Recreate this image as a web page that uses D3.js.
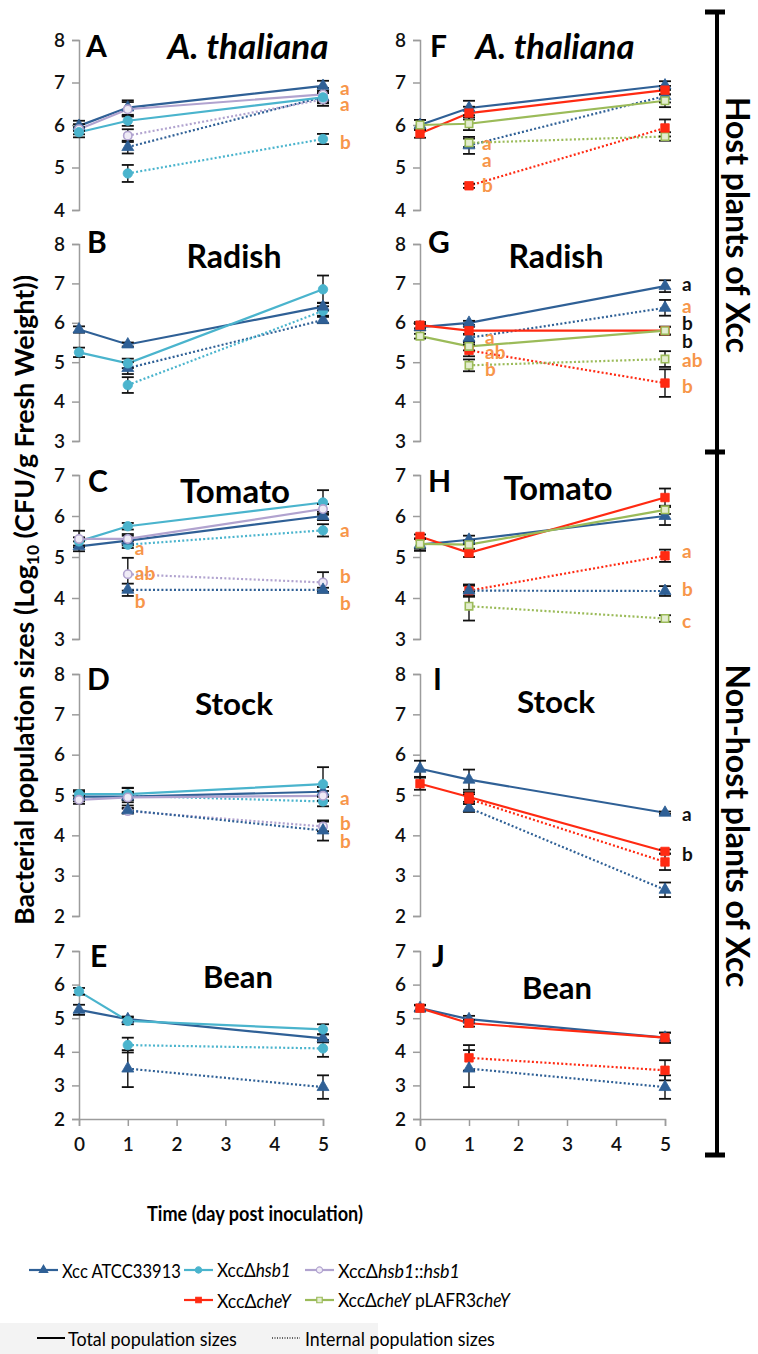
<!DOCTYPE html>
<html><head><meta charset="utf-8">
<script src="https://cdn.jsdelivr.net/npm/d3@7"></script>
<style>body{margin:0;background:#fff} svg{display:block} text{font-family:Lato,'Open Sans',sans-serif}</style>
</head><body><svg id="c" width="758" height="1354"></svg>
<script>
// ---------------- DATA ----------------
const days = [0, 1, 5];
const internalDays = [1, 5];
const xTickValues = [0, 1, 2, 3, 4, 5];
const strainKeys = ["wt", "hsb1", "comp1", "cheY", "comp2"];
const strainLabels = [["Xcc ATCC33913"], ["XccΔ", "hsb1"], ["XccΔ", "hsb1", "::", "hsb1"], ["XccΔ", "cheY"], ["XccΔ", "cheY", " pLAFR3", "cheY"]];
const panelIds = ["A", "B", "C", "D", "E", "F", "G", "H", "I", "J"];
const panelTitles = ["A. thaliana", "Radish", "Tomato", "Stock", "Bean", "A. thaliana", "Radish", "Tomato", "Stock", "Bean"];
const panelYDomains = [[4, 8], [3, 8], [3, 7], [2, 8], [2, 7], [4, 8], [3, 8], [3, 7], [2, 8], [2, 7]];
// [strain, kind, values (total: days 0,1,5 ; internal: days 1,5), error]
const seriesA = [
  ["wt", "total", [5.98, 6.41, 6.92], [0.12, 0.17, 0.12]],
  ["comp1", "total", [5.90, 6.37, 6.72], [0.12, 0.17, 0.15]],
  ["hsb1", "total", [5.83, 6.10, 6.65], [0.12, 0.12, 0.12]],
  ["wt", "internal", [5.48, 6.66], [0.15, 0.15]],
  ["comp1", "internal", [5.75, 6.60], [0.15, 0.15]],
  ["hsb1", "internal", [4.86, 5.67], [0.20, 0.12]]
];
const seriesB = [
  ["wt", "total", [5.83, 5.45, 6.41], [0.08, 0.05, 0.10]],
  ["hsb1", "total", [5.25, 4.97, 6.85], [0.12, 0.12, 0.35]],
  ["wt", "internal", [4.85, 6.07], [0.15, 0.08]],
  ["hsb1", "internal", [4.42, 6.30], [0.20, 0.12]]
];
const seriesC = [
  ["wt", "total", [5.26, 5.40, 6.00], [0.12, 0.12, 0.10]],
  ["hsb1", "total", [5.38, 5.75, 6.33], [0.10, 0.08, 0.30]],
  ["comp1", "total", [5.44, 5.44, 6.17], [0.20, 0.12, 0.12]],
  ["hsb1", "internal", [5.30, 5.65], [0.08, 0.15]],
  ["comp1", "internal", [4.58, 4.38], [0.40, 0.25]],
  ["wt", "internal", [4.20, 4.20], [0.15, 0.05]]
];
const seriesD = [
  ["wt", "total", [4.96, 4.96, 5.08], [0.12, 0.22, 0.12]],
  ["hsb1", "total", [5.02, 5.02, 5.27], [0.10, 0.15, 0.42]],
  ["comp1", "total", [4.88, 4.94, 4.98], [0.10, 0.12, 0.12]],
  ["hsb1", "internal", [4.98, 4.84], [0.10, 0.12]],
  ["comp1", "internal", [4.60, 4.22], [0.06, 0.12]],
  ["wt", "internal", [4.62, 4.12], [0.06, 0.25]]
];
const seriesE = [
  ["wt", "total", [5.25, 4.97, 4.40], [0.15, 0.08, 0.12]],
  ["hsb1", "total", [5.80, 4.92, 4.67], [0.10, 0.10, 0.15]],
  ["hsb1", "internal", [4.20, 4.10], [0.22, 0.25]],
  ["wt", "internal", [3.50, 2.95], [0.55, 0.35]]
];
const seriesF = [
  ["wt", "total", [6.00, 6.40, 6.93], [0.12, 0.17, 0.10]],
  ["cheY", "total", [5.80, 6.28, 6.82], [0.10, 0.15, 0.10]],
  ["comp2", "total", [6.00, 6.03, 6.57], [0.12, 0.15, 0.15]],
  ["wt", "internal", [5.52, 6.68], [0.20, 0.15]],
  ["comp2", "internal", [5.58, 5.73], [0.10, 0.10]],
  ["cheY", "internal", [4.57, 5.93], [0.05, 0.20]]
];
const seriesG = [
  ["wt", "total", [5.89, 6.00, 6.93], [0.08, 0.05, 0.15]],
  ["cheY", "total", [5.94, 5.80, 5.80], [0.08, 0.10, 0.10]],
  ["comp2", "total", [5.66, 5.40, 5.80], [0.06, 0.10, 0.10]],
  ["wt", "internal", [5.62, 6.38], [0.10, 0.20]],
  ["cheY", "internal", [5.30, 4.47], [0.15, 0.35]],
  ["comp2", "internal", [4.92, 5.08], [0.15, 0.20]]
];
const seriesH = [
  ["wt", "total", [5.30, 5.42, 6.00], [0.15, 0.10, 0.22]],
  ["cheY", "total", [5.50, 5.10, 6.45], [0.05, 0.10, 0.22]],
  ["comp2", "total", [5.32, 5.30, 6.15], [0.12, 0.10, 0.10]],
  ["cheY", "internal", [4.18, 5.03], [0.12, 0.15]],
  ["wt", "internal", [4.18, 4.17], [0.15, 0.12]],
  ["comp2", "internal", [3.80, 3.50], [0.35, 0.08]]
];
const seriesI = [
  ["wt", "total", [5.65, 5.38, 4.56], [0.20, 0.25, 0.03]],
  ["cheY", "total", [5.28, 4.95, 3.60], [0.15, 0.12, 0.05]],
  ["wt", "internal", [4.68, 2.65], [0.10, 0.18]],
  ["cheY", "internal", [4.90, 3.34], [0.12, 0.20]]
];
const seriesJ = [
  ["wt", "total", [5.30, 4.97, 4.42], [0.10, 0.10, 0.15]],
  ["cheY", "total", [5.30, 4.85, 4.42], [0.08, 0.10, 0.15]],
  ["cheY", "internal", [3.82, 3.45], [0.38, 0.30]],
  ["wt", "internal", [3.50, 2.95], [0.55, 0.35]]
];
// significance letters: [day, value, text, colour group]
const statsA = [[5, 6.88, "a", "o"], [5, 6.50, "a", "o"], [5, 5.62, "b", "o"]];
const statsB = [];
const statsC = [[1, 5.22, "a", "o"], [1, 4.61, "ab", "o"], [1, 3.95, "b", "o"], [5, 5.68, "a", "o"], [5, 4.56, "b", "o"], [5, 3.90, "b", "o"]];
const statsD = [[5, 4.95, "a", "o"], [5, 4.31, "b", "o"], [5, 3.86, "b", "o"]];
const statsE = [];
const statsF = [[1, 5.58, "a", "o"], [1, 5.18, "a", "o"], [1, 4.61, "b", "o"]];
const statsG = [[5, 7.01, "a", "k"], [5, 6.43, "a", "o"], [5, 6.02, "b", "k"], [5, 5.54, "b", "k"], [5, 5.08, "ab", "o"], [5, 4.42, "b", "o"], [1, 5.66, "a", "o"], [1, 5.28, "ab", "o"], [1, 4.85, "b", "o"]];
const statsH = [[5, 5.17, "a", "o"], [5, 4.24, "b", "o"], [5, 3.46, "c", "o"]];
const statsI = [[5, 4.55, "a", "k"], [5, 3.56, "b", "k"]];
const statsJ = [];
const groupLabels = ["Host plants of Xcc", "Non-host plants of Xcc"];
const popLabels = ["Total population sizes", "Internal population sizes"];

// ---------------- STYLE / LAYOUT ----------------
const colors = {wt: "#2f6096", hsb1: "#4ab4cd", comp1: "#b1a3cf", cheY: "#ff2a12", comp2: "#9bbb59"};
const fills = {wt: "#2f6096", hsb1: "#4ab4cd", comp1: "#efebf6", cheY: "#ff2a12", comp2: "#e4edd0"};
const statColor = {o: "#f7964a", k: "#111"};
const allSeries = [seriesA, seriesB, seriesC, seriesD, seriesE, seriesF, seriesG, seriesH, seriesI, seriesJ];
const allStats = [statsA, statsB, statsC, statsD, statsE, statsF, statsG, statsH, statsI, statsJ];
const rowsPx = [[40, 210], [244, 441], [475, 639], [674, 916], [951, 1119]];
const colsPx = [[79, 323], [420, 665]];
const letterPos = [[86, 57], [87, 253], [88, 492], [87, 690], [90, 967], [430, 57], [428, 253], [428, 492], [433, 690], [432, 967]];
const titlePos = [[248, 59, 161], [234, 268, 95], [235, 503, 110], [234, 715, 78], [238, 988, 70],
                  [555, 59, 159], [556, 268, 95], [558, 500, 109], [556, 713, 78], [557, 999, 70]];
const statDx1 = [0, 0, 7, 0, 0, 13, 16, 0, 0, 0];

const svg = d3.select("#c");

function fitWidth(sel, w) {
  const n = sel.node();
  const fs = parseFloat(sel.attr("font-size"));
  const cw = n.getComputedTextLength();
  if (cw > 0) sel.attr("font-size", (fs * w / cw).toFixed(2));
}
// keep font height, compress horizontally to the given width
function squeeze(sel, w) {
  const cw = sel.node().getComputedTextLength();
  const x = +sel.attr("x"), y = +sel.attr("y");
  sel.attr("x", 0).attr("y", 0).attr("transform", `translate(${x},${y}) scale(${(w / cw).toFixed(4)},1)`);
}

function symbolFor(key) {
  if (key === "wt") return d3.symbol(d3.symbolTriangle, 62);
  if (key === "hsb1") return d3.symbol(d3.symbolCircle, 70);
  if (key === "comp1") return d3.symbol(d3.symbolCircle, 55);
  if (key === "cheY") return d3.symbol(d3.symbolSquare, 72);
  return d3.symbol(d3.symbolSquare, 55);
}

panelIds.forEach((id, i) => {
  const col = i < 5 ? 0 : 1, row = i % 5;
  const x = d3.scaleLinear().domain([0, 5]).range(colsPx[col]);
  const y = d3.scaleLinear().domain(panelYDomains[i]).range([rowsPx[row][1], rowsPx[row][0]]);
  const g = svg.append("g");
  // y axis
  const yAxis = d3.axisLeft(y).ticks(panelYDomains[i][1] - panelYDomains[i][0]).tickSize(7).tickPadding(7).tickFormat(d3.format("d"));
  const ga = g.append("g").attr("transform", `translate(${colsPx[col][0]},0)`).call(yAxis);
  ga.select(".domain").attr("stroke", "#9c9c9c").attr("stroke-width", 1.5);
  ga.selectAll(".tick line").attr("stroke", "#9c9c9c").attr("stroke-width", 1.5);
  ga.selectAll(".tick text").attr("font-family", "Lato").attr("font-size", 19).attr("font-weight", 600).attr("fill", "#111");
  if (row === 4) {
    const xAxis = d3.axisBottom(x).tickValues(xTickValues).tickSize(7).tickPadding(12).tickFormat(d3.format("d"));
    const gx = g.append("g").attr("transform", `translate(0,${rowsPx[row][1]})`).call(xAxis);
    gx.select(".domain").attr("stroke", "#9c9c9c").attr("stroke-width", 1.5);
    gx.selectAll(".tick line").attr("stroke", "#9c9c9c").attr("stroke-width", 1.5);
    gx.selectAll(".tick text").attr("font-family", "Lato").attr("font-size", 19).attr("font-weight", 600).attr("fill", "#111");
  }
  // panel letter
  g.append("text").attr("x", letterPos[i][0]).attr("y", letterPos[i][1]).attr("font-size", 30).attr("font-weight", 700).attr("fill", "#000").text(id);
  // title
  const t = g.append("text").attr("x", titlePos[i][0]).attr("y", titlePos[i][1]).attr("text-anchor", "middle")
    .attr("font-size", 28).attr("font-weight", 700).attr("font-style", panelTitles[i].startsWith("A.") ? "italic" : "normal").attr("fill", "#000").text(panelTitles[i]);
  fitWidth(t, titlePos[i][2]);

  const series = allSeries[i];
  const line = d3.line().x(d => x(d[0])).y(d => y(d[1]));
  const pts = s => (s[1] === "total" ? days : internalDays).map((d, k) => [d, s[2][k], s[3][k]]);
  const ordered = series.filter(s => s[1] === "internal").concat(series.filter(s => s[1] === "total"));
  ordered.forEach(s => {
    g.append("path").attr("d", line(pts(s))).attr("fill", "none").attr("stroke", colors[s[0]])
      .attr("stroke-width", 2.2)
      .attr("stroke-dasharray", s[1] === "total" ? null : "2,2.2");
  });
  // error bars
  ordered.forEach(s => {
    pts(s).forEach(p => {
      const xx = x(p[0]), y1 = y(p[1] + p[2]), y2 = y(p[1] - p[2]);
      g.append("line").attr("x1", xx).attr("x2", xx).attr("y1", y1).attr("y2", y2).attr("stroke", "#111").attr("stroke-width", 1.4);
      [y1, y2].forEach(yy => g.append("line").attr("x1", xx - 6).attr("x2", xx + 6).attr("y1", yy).attr("y2", yy).attr("stroke", "#111").attr("stroke-width", 1.8));
    });
  });
  // markers
  ordered.forEach(s => {
    pts(s).forEach(p => {
      g.append("path").attr("d", symbolFor(s[0])()).attr("transform", `translate(${x(p[0])},${y(p[1])})`)
        .attr("fill", fills[s[0]]).attr("stroke", colors[s[0]]).attr("stroke-width", (s[0] === "comp1" || s[0] === "comp2") ? 1.6 : 0.8);
    });
  });
  // significance letters
  allStats[i].forEach(st => {
    const dx = st[0] === 5 ? 17 : (statDx1[i] || 12);
    g.append("text").attr("x", x(st[0]) + dx).attr("y", y(st[1])).attr("dominant-baseline", "central")
      .attr("font-size", 19).attr("font-weight", 700).attr("fill", statColor[st[3]]).text(st[2]);
  });
});

// y axis title
const yt = svg.append("text").attr("transform", "translate(34,600) rotate(-90)").attr("text-anchor", "middle")
  .attr("font-size", 20).attr("font-weight", 700).attr("fill", "#000");
yt.append("tspan").text("Bacterial population sizes (Log");
yt.append("tspan").attr("font-size", "0.65em").attr("dy", 5).text("10");
yt.append("tspan").attr("dy", -5).text(" (CFU/g Fresh Weight))");
fitWidth(yt, 650);

// x axis title
const xt = svg.append("text").attr("x", 255).attr("y", 1221).attr("text-anchor", "middle").attr("font-size", 21).attr("font-weight", 700).attr("fill", "#000").text("Time (day post inoculation)");
squeeze(xt, 216);

// right bracket
const br = svg.append("g").attr("stroke", "#000");
br.append("line").attr("x1", 717).attr("x2", 717).attr("y1", 12).attr("y2", 1155).attr("stroke-width", 4);
[12, 452, 1155].forEach(yy => br.append("line").attr("x1", 705).attr("x2", 725).attr("y1", yy).attr("y2", yy).attr("stroke-width", 5));
const gl1 = svg.append("text").attr("transform", "translate(738,225) rotate(90)").attr("text-anchor", "middle").attr("dominant-baseline", "central")
  .attr("font-size", 26).attr("font-weight", 700).attr("fill", "#000").text(groupLabels[0]);
fitWidth(gl1, 256);
const gl2 = svg.append("text").attr("transform", "translate(738,826) rotate(90)").attr("text-anchor", "middle").attr("dominant-baseline", "central")
  .attr("font-size", 26).attr("font-weight", 700).attr("fill", "#000").text(groupLabels[1]);
fitWidth(gl2, 323);

// legend
const legPos = [[29, 1270], [184, 1270], [305, 1270], [184, 1300], [305, 1300]];
const legWidths = [119, 74, 122, 74, 172];
const lg = svg.append("g");
strainKeys.forEach((k, i) => {
  const [lx, ly] = legPos[i];
  lg.append("line").attr("x1", lx).attr("x2", lx + 29).attr("y1", ly).attr("y2", ly).attr("stroke", colors[k]).attr("stroke-width", 2.2);
  lg.append("path").attr("d", d3.symbol(k === "wt" ? d3.symbolTriangle : (k === "cheY" || k === "comp2") ? d3.symbolSquare : d3.symbolCircle, 30)())
    .attr("transform", `translate(${lx + 14.5},${ly})`).attr("fill", fills[k]).attr("stroke", colors[k]).attr("stroke-width", 1.2);
  const tx = lg.append("text").attr("x", lx + 33).attr("y", ly).attr("dominant-baseline", "central").attr("font-size", 20).attr("fill", "#000");
  strainLabels[i].forEach((part, j) => tx.append("tspan").attr("font-style", j % 2 === 1 ? "italic" : "normal").text(part));
  squeeze(tx, legWidths[i]);
});

// bottom population legend
svg.append("rect").attr("x", 0).attr("y", 1323).attr("width", 378).attr("height", 31).attr("fill", "#f3f3f3");
svg.append("line").attr("x1", 37).attr("x2", 65).attr("y1", 1338).attr("y2", 1338).attr("stroke", "#000").attr("stroke-width", 2);
const p1 = svg.append("text").attr("x", 68).attr("y", 1338).attr("dominant-baseline", "central").attr("font-size", 20).attr("fill", "#000").text(popLabels[0]);
squeeze(p1, 169);
svg.append("line").attr("x1", 272).attr("x2", 300).attr("y1", 1338).attr("y2", 1338).attr("stroke", "#333").attr("stroke-width", 1.3).attr("stroke-dasharray", "1,1.5");
const p2 = svg.append("text").attr("x", 305).attr("y", 1338).attr("dominant-baseline", "central").attr("font-size", 20).attr("fill", "#000").text(popLabels[1]);
squeeze(p2, 190);
</script></body></html>
